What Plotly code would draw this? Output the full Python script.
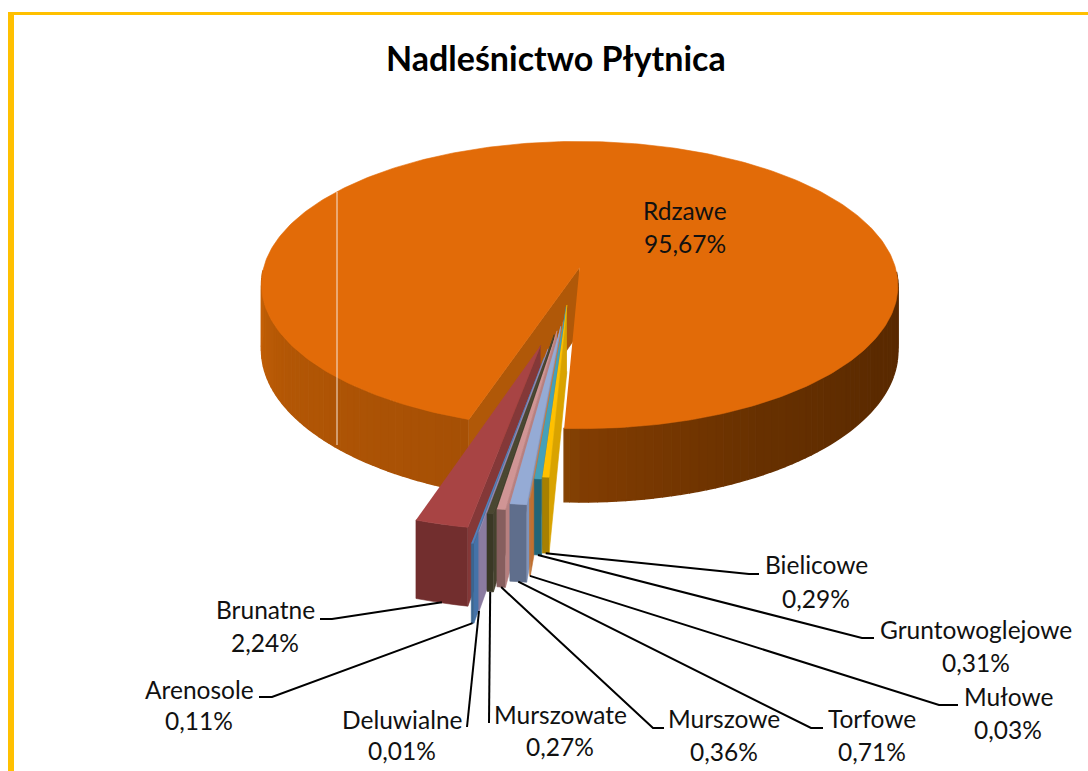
import numpy as np
import plotly.graph_objects as go

# ---- data ----
categories = ["Rdzawe", "Bielicowe", "Gruntowoglejowe", "Mułowe", "Torfowe",
              "Murszowe", "Murszowate", "Deluwialne", "Arenosole", "Brunatne"]
values = [95.67, 0.29, 0.31, 0.03, 0.71, 0.36, 0.27, 0.01, 0.11, 2.24]
title_text = "Nadleśnictwo Płytnica"

# ---- styling ----
pull = [0.20, 0.06, 0.07, 0.17, 0.20, 0.23, 0.255, 0.345, 0.40, 0.33]
top_colors = ["#E26B08", "#FFC000", "#45A0B8", "#E07B28", "#95ABD5", "#D09595", "#4A4731", "#A898BC", "#4F81BD", "#A84444"]
side_colors = ["#B05808", "#D9A300", "#2F8398", "#C07030", "#7F93BA", "#B78080", "#45422D", "#8B7BA0", "#4472A8", "#843838"]
front_colors = ["#A85206", "#A88000", "#226577", "#C07030", "#5F6E8C", "#865E5E", "#3A3825", "#8B7BA0", "#3A6590", "#722E2E"]
label_xy = {"Rdzawe": (685, 210.5, 243.5), "Bielicowe": (816, 564.5, 598.5), "Gruntowoglejowe": (976, 629.5, 662.5),
            "Mułowe": (1008, 696.5, 729.5), "Torfowe": (872, 718.5, 751.5), "Murszowe": (724, 718.5, 751.5),
            "Murszowate": (560, 714.5, 746.5), "Deluwialne": (402, 719.5, 750.5), "Arenosole": (199, 689.5, 720.5),
            "Brunatne": (265, 609.5, 642.5)}
leader_end = {"Bielicowe": [(749, 574), (759, 574)], "Gruntowoglejowe": [(862, 638), (874, 638)],
              "Mułowe": [(939, 705), (958, 705)], "Torfowe": [(811, 728), (823, 728)],
              "Murszowe": [(653, 728), (664, 728)], "Murszowate": [(489, 723)], "Deluwialne": [(467, 727)],
              "Arenosole": [(272, 697), (259, 697)], "Brunatne": [(332, 619), (320, 619)]}

X0, Y0, RX, RY, K, H = 568.0, 296.0, 323.6, 148.5, 0.125, 66.0
START = 198.3
FONT = "Lato"


def proj(X, Y, z=0.0):
    s = 1.0 / (1.0 + K * np.asarray(Y))
    return X0 + RX * np.asarray(X) * s, Y0 - RY * np.asarray(Y) * s + H * z * s


fig = go.Figure()


def poly(xs, ys, color, lw=0.6):
    fig.add_trace(go.Scatter(x=list(xs), y=list(ys), mode="lines", fill="toself", fillcolor=color,
                             line=dict(color=color, width=lw), hoverinfo="skip", showlegend=False))


def shade(theta):
    t = ((theta + 180) % 360) - 180  # -180..180, clockwise from 12 o'clock
    a = np.array([-180, -162, -120, -95, -80, 90, 120, 150, 178, 180])
    rgb = np.array([[0x80, 0x40, 0x03], [0xA6, 0x50, 0x05], [0xB3, 0x57, 0x05], [0xC4, 0x60, 0x08], [0xC4, 0x60, 0x08],
                    [0x58, 0x29, 0x00], [0x5C, 0x2B, 0x00], [0x68, 0x31, 0x00], [0x80, 0x3C, 0x02], [0x80, 0x3C, 0x02]])
    c = [int(np.interp(t, a, rgb[:, i])) for i in range(3)]
    return "rgb(%d,%d,%d)" % tuple(c)


# slice angles, clockwise from 12 o'clock
spans = np.array(values) / sum(values) * 360.0
starts = START + np.concatenate([[0], np.cumsum(spans)[:-1]])
ends = starts + spans
mids = (starts + ends) / 2

# Largest slice: rim, cut wall, top
ox, oy = pull[0] * np.sin(np.radians(mids[0])), pull[0] * np.cos(np.radians(mids[0]))
edges = np.arange(starts[0], ends[0] + 1.5, 1.5)
edges[-1] = ends[0]
for a, b in zip(edges[:-1], edges[1:]):
    if np.cos(np.radians((a + b) / 2)) > -0.02:
        continue
    th = np.radians(np.linspace(a, b, 3))
    X, Y = ox + np.sin(th), oy + np.cos(th)
    xt, yt = proj(X, Y, 0)
    xb, yb = proj(X, Y, 1)
    poly(np.r_[xt, xb[::-1]], np.r_[yt, yb[::-1]], shade((a + b) / 2), lw=1.4)
th = np.radians(starts[0])
X, Y = np.array([ox, ox + np.sin(th)]), np.array([oy, oy + np.cos(th)])
xt, yt = proj(X, Y, 0)
xb, yb = proj(X, Y, 1)
poly(np.r_[xt, xb[::-1]], np.r_[yt, yb[::-1]], side_colors[0])
th = np.radians(np.linspace(starts[0], ends[0], 361))
xt, yt = proj(np.r_[ox, ox + np.sin(th)], np.r_[oy, oy + np.cos(th)], 0)
poly(xt, yt, top_colors[0])

# Small slices, left to right
anchors = {}
for i in sorted(range(1, len(values)), key=lambda n: -mids[n]):
    m = np.radians(mids[i])
    ox, oy = pull[i] * np.sin(m), pull[i] * np.cos(m)
    # visible radial side (right edge)
    r = np.radians(starts[i])
    X, Y = np.array([ox, ox + np.sin(r)]), np.array([oy, oy + np.cos(r)])
    xt, yt = proj(X, Y, 0)
    xb, yb = proj(X, Y, 1)
    poly(np.r_[xt, xb[::-1]], np.r_[yt, yb[::-1]], side_colors[i])
    # outer face
    th = np.radians(np.linspace(starts[i], ends[i], 5))
    X, Y = ox + np.sin(th), oy + np.cos(th)
    xt, yt = proj(X, Y, 0)
    xb, yb = proj(X, Y, 1)
    poly(np.r_[xt, xb[::-1]], np.r_[yt, yb[::-1]], front_colors[i])
    anchors[categories[i]] = (float((xb[0] + xb[-1]) / 2), float((yb[0] + yb[-1]) / 2))
    # top
    xt, yt = proj(np.r_[ox, X], np.r_[oy, Y], 0)
    poly(xt, yt, top_colors[i])

# leader lines, from the slice's foot to the label
for name, pts in leader_end.items():
    ax, ay = anchors[name]
    xs = [ax] + [p[0] for p in pts]
    ys = [ay] + [p[1] for p in pts]
    fig.add_trace(go.Scatter(x=xs, y=ys, mode="lines", line=dict(color="#000000", width=2),
                             hoverinfo="skip", showlegend=False))

# labels
for name, v in zip(categories, values):
    x, y1, y2 = label_xy[name]
    for yy, txt in ((y1, name), (y2, f"{v:.2f}%".replace(".", ","))):
        fig.add_annotation(x=x, y=yy, text=txt, showarrow=False, xref="x", yref="y",
                           font=dict(family=FONT, size=24.5, color="#111111"), xanchor="center", yanchor="middle")
fig.add_annotation(x=556, y=57, text="<b>%s</b>" % title_text, showarrow=False, xref="x", yref="y",
                   font=dict(family=FONT, size=34, color="#000000"), xanchor="center", yanchor="middle")

shapes = [
    dict(type="rect", x0=8, x1=14, y0=12, y1=771, fillcolor="#FFC000", line_width=0, layer="above"),
    dict(type="rect", x0=8, x1=1088, y0=12, y1=15, fillcolor="#FFC000", line_width=0, layer="above"),
    dict(type="line", x0=337, x1=337, y0=192, y1=445, line=dict(color="#F5E6DA", width=1), layer="above"),
]
fig.update_layout(width=1088, height=771, margin=dict(l=0, r=0, t=0, b=0), paper_bgcolor="#FFFFFF",
                  plot_bgcolor="#FFFFFF", showlegend=False, shapes=shapes,
                  xaxis=dict(range=[0, 1088], visible=False, fixedrange=True),
                  yaxis=dict(range=[771, 0], visible=False, fixedrange=True))
fig.write_html("out.html", config={"displayModeBar": False},
               post_script="document.body.style.margin='0';document.body.style.overflow='hidden';")
